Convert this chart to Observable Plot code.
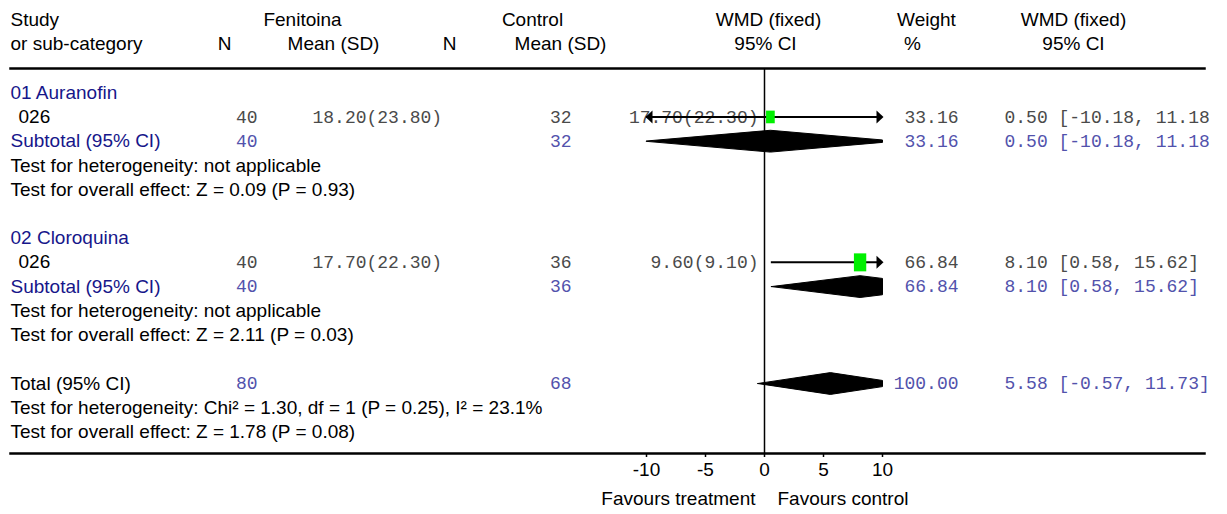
<!DOCTYPE html>
<html><head><meta charset="utf-8">
<script src="https://cdn.jsdelivr.net/npm/d3@7"></script>
<script src="https://cdn.jsdelivr.net/npm/@observablehq/plot@0.6"></script>
<style>
html,body{margin:0;padding:0;background:#fff;}
#chart svg{display:block;overflow:hidden;}
</style></head><body><div id="chart"></div>
<script>
// ---------- data ----------
const groupNames = ["01 Auranofin", "02 Cloroquina"];
const studyNames = ["026", "026"];
const fenN = [40, 40];
const fenMeanSD = ["18.20(23.80)", "17.70(22.30)"];
const ctrlN = [32, 36];
const ctrlMeanSD = ["17.70(22.30)", "9.60(9.10)"];
const studyWmd = [0.50, 8.10];
const studyLow = [-10.18, 0.58];
const studyHigh = [11.18, 15.62];
const studyWeight = [33.16, 66.84];
const subFenN = [40, 40];
const subCtrlN = [32, 36];
const subWmd = [0.50, 8.10];
const subLow = [-10.18, 0.58];
const subHigh = [11.18, 15.62];
const subWeight = [33.16, 66.84];
const subHet = ["Test for heterogeneity: not applicable", "Test for heterogeneity: not applicable"];
const subEffect = ["Test for overall effect: Z = 0.09 (P = 0.93)", "Test for overall effect: Z = 2.11 (P = 0.03)"];
const totalLabel = "Total (95% CI)";
const totalN = [80, 68];
const totalWmd = 5.58, totalLow = -0.57, totalHigh = 11.73, totalWeight = 100.00;
const totalHet = "Test for heterogeneity: Chi² = 1.30, df = 1 (P = 0.25), I² = 23.1%";
const totalEffect = "Test for overall effect: Z = 1.78 (P = 0.08)";
const headerLine1 = ["Study", "Fenitoina", "Control", "WMD (fixed)", "Weight", "WMD (fixed)"];
const headerLine2 = ["or sub-category", "N", "Mean (SD)", "N", "Mean (SD)", "95% CI", "%", "95% CI"];
const xTicks = [-10, -5, 0, 5, 10];
const favours = ["Favours treatment", "Favours control"];

// ---------- layout ----------
const W = 1211, H = 514;
const ML = 10, MR = W - 1204, MT = 68, MB = H - 453;
const SANS = "'Liberation Sans', Arial, Helvetica, sans-serif";
const MONO = "'Liberation Mono', 'Courier New', monospace";
const NAVY = "#16168a", BLUE = "#5252ac", GRAY = "#4a4a4a";
const FS = 19, FM = 18;
const col = {label: 10, study: 18, fenN: 257, fenMean: 312, ctrlN: 571, ctrlMean: 758, weight: 958, ci: 1004};
const h1Pos = [10, 302, 532, 768, 926, 1073];
const h1Anchor = ["start", "middle", "middle", "middle", "middle", "middle"];
const h2Pos = [10, 224, 333, 449, 560, 765, 912, 1073];
const h2Anchor = ["start", "middle", "middle", "middle", "middle", "middle", "middle", "middle"];
const LIM = 10;

const fmtCI = (m, lo, hi) => `${m.toFixed(2)} [${lo.toFixed(2)}, ${hi.toFixed(2)}]`;

// rows
const sansRows = [], monoRows = [], studies = [], diamonds = [];
groupNames.forEach((g, i) => {
  const b = i * 6;
  sansRows.push({row: b, text: g, color: NAVY, x: col.label});
  sansRows.push({row: b + 1, text: studyNames[i], color: "#000", x: col.study});
  sansRows.push({row: b + 2, text: "Subtotal (95% CI)", color: NAVY, x: col.label});
  sansRows.push({row: b + 3, text: subHet[i], color: "#000", x: col.label});
  sansRows.push({row: b + 4, text: subEffect[i], color: "#000", x: col.label});
  monoRows.push({row: b + 1, text: String(fenN[i]), color: GRAY, x: col.fenN, anchor: "end"});
  monoRows.push({row: b + 1, text: fenMeanSD[i], color: GRAY, x: col.fenMean, anchor: "start"});
  monoRows.push({row: b + 1, text: String(ctrlN[i]), color: GRAY, x: col.ctrlN, anchor: "end"});
  monoRows.push({row: b + 1, text: ctrlMeanSD[i], color: GRAY, x: col.ctrlMean, anchor: "end"});
  monoRows.push({row: b + 1, text: studyWeight[i].toFixed(2), color: GRAY, x: col.weight, anchor: "end"});
  monoRows.push({row: b + 1, text: fmtCI(studyWmd[i], studyLow[i], studyHigh[i]), color: GRAY, x: col.ci, anchor: "start"});
  monoRows.push({row: b + 2, text: String(subFenN[i]), color: BLUE, x: col.fenN, anchor: "end"});
  monoRows.push({row: b + 2, text: String(subCtrlN[i]), color: BLUE, x: col.ctrlN, anchor: "end"});
  monoRows.push({row: b + 2, text: subWeight[i].toFixed(2), color: BLUE, x: col.weight, anchor: "end"});
  monoRows.push({row: b + 2, text: fmtCI(subWmd[i], subLow[i], subHigh[i]), color: BLUE, x: col.ci, anchor: "start"});
  studies.push({row: b + 1, est: studyWmd[i], lo: studyLow[i], hi: studyHigh[i], w: studyWeight[i]});
  diamonds.push({row: b + 2, est: subWmd[i], lo: subLow[i], hi: subHigh[i], id: "s" + i});
});
sansRows.push({row: 12, text: totalLabel, color: "#000", x: col.label});
sansRows.push({row: 13, text: totalHet, color: "#000", x: col.label});
sansRows.push({row: 14, text: totalEffect, color: "#000", x: col.label});
monoRows.push({row: 12, text: String(totalN[0]), color: BLUE, x: col.fenN, anchor: "end"});
monoRows.push({row: 12, text: String(totalN[1]), color: BLUE, x: col.ctrlN, anchor: "end"});
monoRows.push({row: 12, text: totalWeight.toFixed(2), color: BLUE, x: col.weight, anchor: "end"});
monoRows.push({row: 12, text: fmtCI(totalWmd, totalLow, totalHigh), color: BLUE, x: col.ci, anchor: "start"});
diamonds.push({row: 12, est: totalWmd, lo: totalLow, hi: totalHigh, id: "t"});

const headers = [
  ...headerLine1.map((t, i) => ({row: -3, text: t, x: h1Pos[i], anchor: h1Anchor[i]})),
  ...headerLine2.map((t, i) => ({row: -2, text: t, x: h2Pos[i], anchor: h2Anchor[i]}))
];

// diamond polygons clipped to the plotted range
const HH = 0.45;
const diamondPts = diamonds.flatMap(d => {
  const L = Math.max(d.lo, -LIM), R = Math.min(d.hi, LIM);
  const hl = d.lo < -LIM ? HH * (-LIM - d.lo) / (d.est - d.lo) : 0;
  const hr = d.hi > LIM ? HH * (d.hi - LIM) / (d.hi - d.est) : 0;
  return [
    {id: d.id, x: L, y: d.row - hl}, {id: d.id, x: d.est, y: d.row - HH},
    {id: d.id, x: R, y: d.row - hr}, {id: d.id, x: R, y: d.row + hr},
    {id: d.id, x: d.est, y: d.row + HH}, {id: d.id, x: L, y: d.row + hl}
  ];
});
const ciLines = studies.map(s => ({row: s.row, x1: Math.max(s.lo, -LIM), x2: Math.min(s.hi, LIM)}));
const rightArrows = studies.filter(s => s.hi > LIM).map(s => ({row: s.row, x: LIM}));
const leftArrows = studies.filter(s => s.lo < -LIM).map(s => ({row: s.row, x: -LIM}));

const arrowR = {draw(ctx) { ctx.moveTo(1, 0); ctx.lineTo(-6, -6.5); ctx.lineTo(-6, 6.5); ctx.closePath(); }};
const arrowL = {draw(ctx) { ctx.moveTo(-1, 0); ctx.lineTo(6, -6.5); ctx.lineTo(6, 6.5); ctx.closePath(); }};
const box = {draw(ctx, size) { const r = Math.sqrt(size / Math.PI); const w = 1.51 * r, h = 2.2 * r; ctx.rect(-w / 2, -h / 2, w, h); }};

const chart = Plot.plot({
  width: W, height: H,
  marginLeft: ML, marginRight: MR, marginTop: MT, marginBottom: MB,
  style: {background: "#fff", fontFamily: SANS, fontSize: FS + "px", color: "#000"},
  x: {domain: [-LIM, LIM], range: [646, 882], axis: null},
  y: {type: "linear", domain: [-3, 14], range: [19.5, 431.5], axis: null},
  r: {type: "sqrt", domain: [0, 100], range: [0, 10]},
  marks: [
    // header text
    ...headers.map(h => Plot.text([h], {y: "row", text: "text", frameAnchor: "left", dx: h.x - ML, textAnchor: h.anchor, fill: "#000", fontSize: FS, fontFamily: SANS})),
    // rule lines
    Plot.frame({anchor: "top", strokeWidth: 2.5}),
    Plot.frame({anchor: "bottom", strokeWidth: 2.5}),
    // sans labels and mono numbers
    ...sansRows.map(r => Plot.text([r], {y: "row", text: "text", frameAnchor: "left", dx: r.x - ML, textAnchor: "start", fill: r.color, fontSize: FS, fontFamily: SANS})),
    ...monoRows.map(r => Plot.text([r], {y: "row", text: "text", frameAnchor: "left", dx: r.x - ML, textAnchor: r.anchor, fill: r.color, fontSize: FM, fontFamily: MONO})),
    // zero line
    Plot.ruleX([0], {stroke: "#000", strokeWidth: 1.5}),
    // axis
    Plot.axisX(xTicks, {anchor: "bottom", tickSize: 4, tickPadding: 5, tickFormat: d => String(d), fontSize: FS, strokeWidth: 1.5, label: null}),
    // CI lines
    Plot.ruleY(ciLines, {y: "row", x1: "x1", x2: "x2", stroke: "#000", strokeWidth: 2}),
    Plot.dot(rightArrows, {x: "x", y: "row", symbol: arrowR, fill: "#000", stroke: "none", r: 5}),
    Plot.dot(leftArrows, {x: "x", y: "row", symbol: arrowL, fill: "#000", stroke: "none", r: 5}),
    // study boxes
    Plot.dot(studies, {x: "est", y: "row", r: "w", symbol: box, fill: "#00f000", stroke: "none"}),
    // diamonds
    Plot.line(diamondPts, {x: "x", y: "y", z: "id", curve: "linear-closed", fill: "#000", stroke: "#000", strokeWidth: 1}),
    // favours labels
    Plot.text([favours[0]], {x: [0], text: d => d, frameAnchor: "bottom", dy: 51.5, dx: -9, textAnchor: "end", fontSize: FS}),
    Plot.text([favours[1]], {x: [0], text: d => d, frameAnchor: "bottom", dy: 51.5, dx: 13, textAnchor: "start", fontSize: FS})
  ]
});
document.getElementById("chart").appendChild(chart);
</script>
</body></html>
